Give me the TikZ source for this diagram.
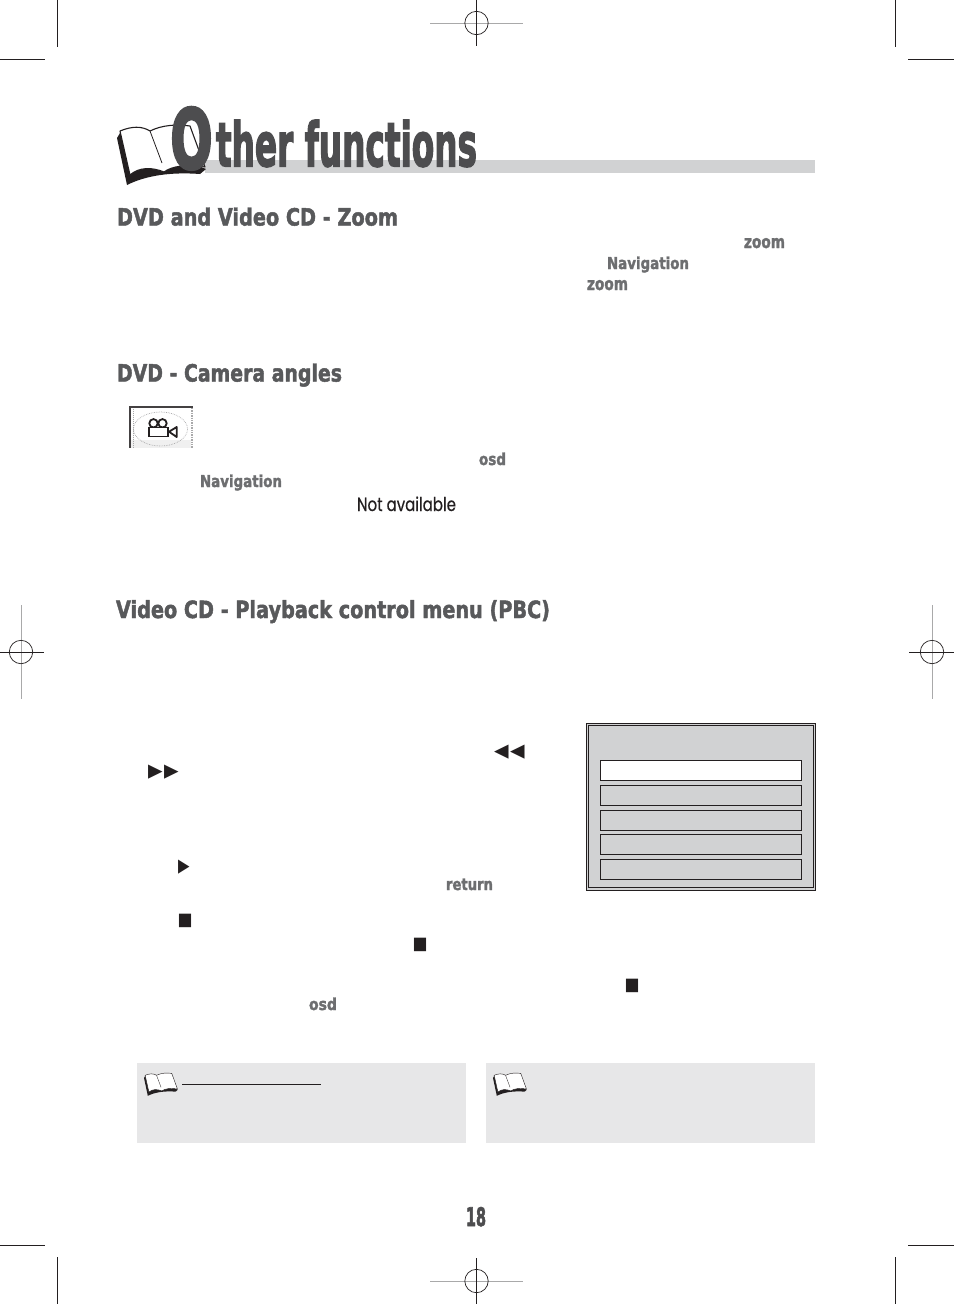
\documentclass[tikz,border=0pt]{standalone}
\usepackage{graphicx}
\usepackage{fontspec}
\setmainfont{DejaVu Sans}
\newfontfamily\symfont{DejaVu Sans}
\newfontfamily\headfont[UprightFont={* Bold},FakeBold=2]{DejaVu Sans}
\newfontfamily\titlefont[UprightFont={* Bold},FakeBold=3]{DejaVu Sans}
\newfontfamily\bigofont[UprightFont={* Bold},FakeBold=4]{DejaVu Sans}
\newfontfamily\plainfont[FakeBold=0.5]{Poppins}
\newcommand{\whfit}[3]{\resizebox{#1pt}{#2pt}{#3}}
\newcommand{\tfit}[3]{\resizebox*{#1pt}{#2pt}{#3}}
\definecolor{inkdark}{HTML}{4D4D4F}
\definecolor{inkhead}{HTML}{58595B}
\definecolor{inklabel}{HTML}{6D6E70}
\definecolor{bargray}{HTML}{D1D2D3}
\definecolor{notegray}{HTML}{E7E7E8}
\definecolor{markdark}{HTML}{231F20}
\definecolor{markgray}{HTML}{A9A9AA}
\tikzset{
  txt/.style={inner sep=0pt,outer sep=0pt,anchor=base west},
  headtxt/.style={txt,text=inkhead,font=\headfont},
  labeltxt/.style={txt,text=inklabel,font=\headfont},
  symtxt/.style={inner sep=0pt,outer sep=0pt,anchor=center,text=markdark,font=\symfont},
  crop/.style={draw=markdark,line width=1pt},
  regdark/.style={draw=markdark,line width=0.7pt},
  reggray/.style={draw=markgray,line width=1pt},
  menuitem/.style={draw=markdark,line width=1pt,fill=bargray}
}
\newcommand{\bookshape}[3]{%
  \begin{scope}[shift={(#1,#2)},x=#3*1pt,y=-#3*1pt]
    \fill[markdark] (3,8) -- (0,13) -- (10,60) .. controls (30,50) and (55,47) .. (83,49) -- (89,44) -- cycle;
    \filldraw[fill=white,draw=markdark,line width=#3*1.1pt,line join=round]
      (3,6) .. controls (15,1) and (25,1) .. (33,6)
      .. controls (45,0) and (60,-1) .. (73,1)
      -- (88,42)
      .. controls (70,39) and (55,41) .. (47,47)
      .. controls (35,42) and (22,42) .. (13,50) -- cycle;
    \draw[markdark,line width=#3*0.8pt] (33,6) -- (45,38);
  \end{scope}}
\begin{document}
\begin{tikzpicture}[x=1pt,y=-1pt]
\path[use as bounding box,fill=white] (0,0) rectangle (954,1304);

% crop marks
\draw[crop] (57.5,0) -- (57.5,47);
\draw[crop] (0,59.5) -- (45,59.5);
\draw[crop] (895.5,0) -- (895.5,47);
\draw[crop] (908,59.5) -- (954,59.5);
\draw[crop] (57.5,1257) -- (57.5,1304);
\draw[crop] (0,1245) -- (45,1245);
\draw[crop] (895.5,1257) -- (895.5,1304);
\draw[crop] (908,1245) -- (954,1245);

% registration marks
\draw[reggray] (430,23) -- (523,23);
\draw[regdark] (476.5,0) -- (476.5,46);
\draw[regdark] (476.5,23) circle (11.7);
\draw[reggray] (430,1281) -- (523,1281);
\draw[regdark] (476.5,1258) -- (476.5,1304);
\draw[regdark] (476.5,1281) circle (11.7);
\draw[reggray] (21,605) -- (21,699);
\draw[regdark] (0,652) -- (44,652);
\draw[regdark] (21,652) circle (11.7);
\draw[reggray] (932,605) -- (932,699);
\draw[regdark] (909,652) -- (954,652);
\draw[regdark] (932,652) circle (11.7);

% title
\fill[bargray] (205,160) rectangle (815,173);
\bookshape{117}{125}{1}
\node[txt,text=inkdark,font=\bigofont,anchor=south west] (titleO) at (170.5,169.5) {\whfit{42}{61}{O}};
\node[txt,text=inkdark,font=\titlefont,anchor=south west] (titlerest) at (216,167) {\whfit{261}{46}{ther functions}};

% headings
\node[headtxt] (h1) at (117,225.5) {\whfit{281}{18}{DVD and Video CD - Zoom}};
\node[headtxt] (h2) at (117,381.5) {\whfit{225}{18}{DVD - Camera angles}};
\node[headtxt] (h3) at (116,618) {\whfit{434}{18}{Video CD - Playback control menu (PBC)}};

% inline labels
\node[labeltxt] (l1) at (744,248) {\whfit{41}{10}{zoom}};
\node[labeltxt] (l2) at (607,269) {\whfit{82}{12.5}{Navigation}};
\node[labeltxt] (l3) at (587,290) {\whfit{41}{10}{zoom}};
\node[labeltxt] (l4) at (479,465) {\whfit{27}{12.5}{osd}};
\node[labeltxt] (l5) at (200,487) {\whfit{82}{12.5}{Navigation}};
\node[txt,text=markdark,font=\plainfont] (l6) at (357,511) {\whfit{99}{14.5}{Not available}};
\node[labeltxt] (l7) at (446,890) {\whfit{47}{11.5}{return}};
\node[labeltxt] (l8) at (309,1010) {\whfit{28}{12.5}{osd}};

% camera icon
\fill[black!6] (131,440) rectangle (191,448);
\fill[markdark!85] (129,405.7) rectangle (192.7,408.3);
\fill[markdark!85] (129,408.3) rectangle (130.8,448);
\draw[markgray,line width=1.4pt,densely dotted] (192,408) -- (192,448);
\draw[markgray,line width=1pt,densely dotted] (133,408.5) -- (133,447);
\draw[markgray,line width=0.7pt,densely dotted] (160.5,429) ellipse (27 and 17);
\draw[markdark,line width=1.8pt] (153.5,423.3) circle (4.2);
\draw[markdark,line width=1.8pt] (162.5,423.3) circle (4.2);
\filldraw[fill=white,draw=markdark,line width=1.9pt] (149,427.5) rectangle (168.3,436.5);
\draw[markdark,line width=1.8pt,line join=round] (169,431.7) -- (176.7,427) -- (176.7,437) -- cycle;

% playback symbols
\node[symtxt] (s1) at (510,752) {\tfit{31}{14.5}{◄\kern0.1em◄}};
\node[symtxt] (s2) at (164,772) {\tfit{31}{14.5}{►\kern0.1em►}};
\node[symtxt] (s3) at (184.7,867) {\tfit{11.5}{14.5}{►}};
\node[symtxt] (s4) at (185,921) {\tfit{15}{13.5}{■}};
\node[symtxt] (s5) at (420,945) {\tfit{15}{13.5}{■}};
\node[symtxt] (s6) at (632,986) {\tfit{15}{13.5}{■}};

% menu box
\filldraw[fill=bargray,draw=markdark,line width=1pt] (586.3,723.3) rectangle (815.7,890);
\draw[draw=markdark,line width=1pt] (588.3,725.3) rectangle (813.7,887.7);
\filldraw[menuitem,fill=white] (600.3,760.3) rectangle (801.7,780.7);
\filldraw[menuitem] (600.3,785.3) rectangle (801.7,805.7);
\filldraw[menuitem] (600.3,810.3) rectangle (801.7,830.7);
\filldraw[menuitem] (600.3,834.3) rectangle (801.7,854.7);
\filldraw[menuitem] (600.3,859.3) rectangle (801.7,879.7);

% notes
\fill[notegray] (137,1063) rectangle (466,1143);
\fill[notegray] (486,1063) rectangle (815,1143);
\bookshape{144}{1073}{0.38}
\bookshape{493}{1073}{0.38}
\draw[markdark,line width=0.9pt] (182.3,1084.3) -- (321,1084.3);

% page number
\node[txt,text=inkdark,font=\titlefont] (pageno) at (466,1226) {\whfit{20}{19}{18}};
\end{tikzpicture}
\end{document}
